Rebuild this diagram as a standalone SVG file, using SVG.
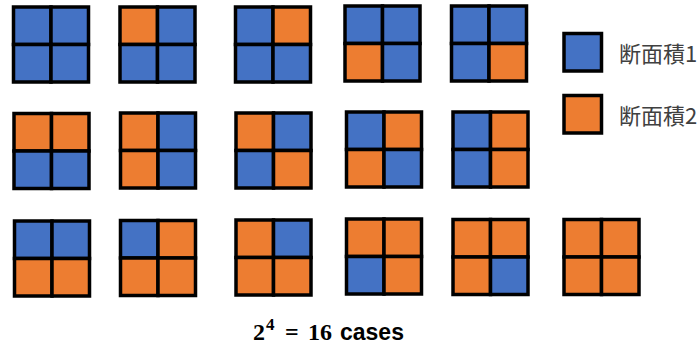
<svg xmlns="http://www.w3.org/2000/svg" width="700" height="345" viewBox="0 0 700 345">
<style>
.b{fill:#4472C4;stroke:#000;stroke-width:3.5}
.o{fill:#ED7D31;stroke:#000;stroke-width:3.5}
.lg{font-family:"Noto Sans CJK JP","Noto Sans",sans-serif;font-size:22px;fill:#404040}
.m{font-family:"Liberation Serif",serif;font-weight:bold;font-size:24px;fill:#000}
.s{font-family:"Liberation Sans",sans-serif;font-weight:bold;font-size:23px;fill:#000}
</style>
<defs>
<rect id="cb" class="b" width="37.5" height="37.5"/>
<rect id="co" class="o" width="37.5" height="37.5"/>
</defs>
<g id="r1g1" transform="translate(13.5,7)"><use href="#cb"/><use href="#cb" x="37.5"/><use href="#cb" y="37.5"/><use href="#cb" x="37.5" y="37.5"/></g>
<g id="r1g2" transform="translate(120,7)"><use href="#co"/><use href="#cb" x="37.5"/><use href="#cb" y="37.5"/><use href="#cb" x="37.5" y="37.5"/></g>
<g id="r1g3" transform="translate(235.5,7)"><use href="#cb"/><use href="#co" x="37.5"/><use href="#cb" y="37.5"/><use href="#cb" x="37.5" y="37.5"/></g>
<g id="r1g4" transform="translate(345,6)"><use href="#cb"/><use href="#cb" x="37.5"/><use href="#co" y="37.5"/><use href="#cb" x="37.5" y="37.5"/></g>
<g id="r1g5" transform="translate(451.5,6)"><use href="#cb"/><use href="#cb" x="37.5"/><use href="#cb" y="37.5"/><use href="#co" x="37.5" y="37.5"/></g>
<g id="r2g1" transform="translate(14,113.5)"><use href="#co"/><use href="#co" x="37.5"/><use href="#cb" y="37.5"/><use href="#cb" x="37.5" y="37.5"/></g>
<g id="r2g2" transform="translate(120.5,113)"><use href="#co"/><use href="#cb" x="37.5"/><use href="#co" y="37.5"/><use href="#cb" x="37.5" y="37.5"/></g>
<g id="r2g3" transform="translate(236,113)"><use href="#co"/><use href="#cb" x="37.5"/><use href="#cb" y="37.5"/><use href="#co" x="37.5" y="37.5"/></g>
<g id="r2g4" transform="translate(346.5,112)"><use href="#cb"/><use href="#co" x="37.5"/><use href="#co" y="37.5"/><use href="#cb" x="37.5" y="37.5"/></g>
<g id="r2g5" transform="translate(453,112)"><use href="#cb"/><use href="#co" x="37.5"/><use href="#cb" y="37.5"/><use href="#co" x="37.5" y="37.5"/></g>
<g id="r3g1" transform="translate(14.5,221)"><use href="#cb"/><use href="#cb" x="37.5"/><use href="#co" y="37.5"/><use href="#co" x="37.5" y="37.5"/></g>
<g id="r3g2" transform="translate(120.5,220.5)"><use href="#cb"/><use href="#co" x="37.5"/><use href="#co" y="37.5"/><use href="#co" x="37.5" y="37.5"/></g>
<g id="r3g3" transform="translate(236,220)"><use href="#co"/><use href="#cb" x="37.5"/><use href="#co" y="37.5"/><use href="#co" x="37.5" y="37.5"/></g>
<g id="r3g4" transform="translate(346.5,219)"><use href="#co"/><use href="#co" x="37.5"/><use href="#cb" y="37.5"/><use href="#co" x="37.5" y="37.5"/></g>
<g id="r3g5" transform="translate(453,219.5)"><use href="#co"/><use href="#co" x="37.5"/><use href="#co" y="37.5"/><use href="#cb" x="37.5" y="37.5"/></g>
<g id="r3g6" transform="translate(564,219.5)"><use href="#co"/><use href="#co" x="37.5"/><use href="#co" y="37.5"/><use href="#co" x="37.5" y="37.5"/></g>
<g id="legend1"><rect class="b" x="564" y="33.5" width="37.5" height="37.5"/><text class="lg" x="619" y="62">断面積1</text></g>
<g id="legend2"><rect class="o" x="564" y="95.5" width="37.5" height="37.5"/><text class="lg" x="619" y="124">断面積2</text></g>
<g id="caption">
<text class="m" x="253" y="340">2</text>
<text class="m" x="266" y="330" style="font-size:17px">4</text>
<text class="m" x="285" y="340">=</text>
<text class="m" x="308" y="340">16</text>
<text class="s" x="340" y="340">cases</text>
</g>
<g id="connectors"/>
</svg>
